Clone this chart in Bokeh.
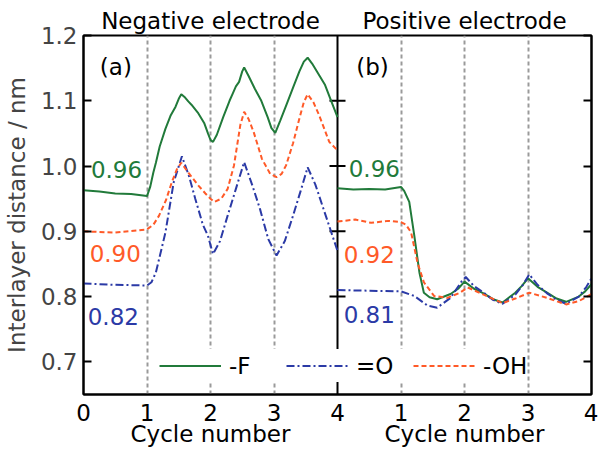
from bokeh.plotting import figure
from bokeh.models import Range1d, LinearAxis, FixedTicker, Span, Label, Legend, LegendItem
from bokeh.embed import file_html
from bokeh.resources import INLINE

# ---------------- data ----------------
panel_titles = ["Negative electrode", "Positive electrode"]
panel_tags = ["(a)", "(b)"]
x_title = "Cycle number"
y_title = "Interlayer distance / nm"
x_tick_labels = ["0", "1", "2", "3", "4", "1", "2", "3", "4"]
y_ticks = [0.7, 0.8, 0.9, 1.0, 1.1, 1.2]
y_tick_labels = ["0.7", "0.8", "0.9", "1.0", "1.1", "1.2"]
series_names = ["-F", "=O", "-OH"]

# Negative electrode (a)
neg_cycle_F = [0, 0.25, 0.5, 0.75, 1.0, 1.05, 1.1, 1.14, 1.2, 1.29, 1.37, 1.45, 1.5, 1.54, 1.6,
               1.65, 1.7, 1.8, 1.9, 1.96, 2.0, 2.04, 2.1, 2.2, 2.3, 2.35, 2.4, 2.45, 2.5, 2.53,
               2.6, 2.7, 2.8, 2.9, 2.96, 3.02, 3.1, 3.2, 3.3, 3.4, 3.47, 3.53, 3.6, 3.7, 3.8,
               3.9, 4.0]
neg_F = [0.963, 0.961, 0.958, 0.957, 0.954, 0.968, 0.990, 1.005, 1.030, 1.057, 1.077, 1.091,
         1.103, 1.110, 1.105, 1.099, 1.094, 1.082, 1.066, 1.050, 1.040, 1.037, 1.048, 1.075,
         1.100, 1.111, 1.122, 1.129, 1.145, 1.151, 1.138, 1.118, 1.100, 1.075, 1.058, 1.051,
         1.070, 1.095, 1.120, 1.145, 1.160, 1.166, 1.157, 1.141, 1.125, 1.100, 1.075]

neg_cycle_O = [0, 0.5, 1.0, 1.07, 1.14, 1.29, 1.42, 1.55, 1.66, 1.76, 1.88, 1.96, 2.04, 2.15,
               2.27, 2.4, 2.53, 2.66, 2.78, 2.91, 3.04, 3.17, 3.30, 3.42, 3.53, 3.65, 3.76,
               3.88, 4.0]
neg_O = [0.820, 0.818, 0.817, 0.822, 0.837, 0.898, 0.975, 1.015, 0.985, 0.950, 0.910, 0.893,
         0.865, 0.885, 0.924, 0.965, 1.006, 0.970, 0.934, 0.888, 0.863, 0.885, 0.924, 0.962,
         0.998, 0.972, 0.940, 0.905, 0.870]

neg_cycle_OH = [0, 0.5, 1.0, 1.1, 1.19, 1.3, 1.39, 1.47, 1.54, 1.65, 1.81, 1.92, 2.0, 2.06,
                2.17, 2.27, 2.37, 2.47, 2.53, 2.6, 2.68, 2.81, 2.94, 3.04, 3.12, 3.19, 3.30,
                3.40, 3.47, 3.53, 3.62, 3.71, 3.87, 4.0]
neg_OH = [0.900, 0.898, 0.903, 0.910, 0.924, 0.948, 0.975, 0.995, 1.005, 0.990, 0.970, 0.958,
          0.950, 0.945, 0.950, 0.965, 1.001, 1.063, 1.083, 1.072, 1.052, 1.011, 0.988, 0.983,
          0.988, 1.001, 1.035, 1.073, 1.098, 1.110, 1.098, 1.078, 1.037, 1.024]

# Positive electrode (b)
pos_cycle_F = [0, 0.25, 0.5, 0.75, 1.0, 1.05, 1.13, 1.21, 1.29, 1.36, 1.45, 1.57, 1.78, 1.9,
               2.0, 2.15, 2.3, 2.45, 2.6, 2.8, 2.9, 3.0, 3.15, 3.3, 3.45, 3.6, 3.8, 3.9, 4.0]
pos_F = [0.966, 0.964, 0.965, 0.964, 0.968, 0.962, 0.945, 0.893, 0.837, 0.806, 0.799, 0.796,
         0.804, 0.812, 0.823, 0.812, 0.805, 0.796, 0.791, 0.806, 0.816, 0.828, 0.815, 0.806,
         0.797, 0.792, 0.800, 0.808, 0.819]

pos_cycle_O = [0, 0.5, 1.0, 1.21, 1.42, 1.57, 1.78, 1.96, 2.02, 2.15, 2.3, 2.45, 2.6, 2.8, 2.92,
               3.02, 3.15, 3.3, 3.45, 3.6, 3.8, 3.92, 4.0]
pos_O = [0.810, 0.809, 0.808, 0.801, 0.786, 0.783, 0.798, 0.824, 0.830, 0.816, 0.806, 0.795,
         0.789, 0.803, 0.818, 0.834, 0.818, 0.805, 0.795, 0.789, 0.800, 0.815, 0.828]

pos_cycle_OH = [0, 0.28, 0.53, 0.8, 1.0, 1.08, 1.16, 1.26, 1.36, 1.52, 1.73, 1.93, 2.05, 2.3,
                2.6, 2.8, 3.02, 3.3, 3.6, 3.8, 4.0]
pos_OH = [0.915, 0.918, 0.913, 0.916, 0.914, 0.910, 0.898, 0.852, 0.822, 0.801, 0.798, 0.806,
          0.814, 0.803, 0.790, 0.797, 0.806, 0.798, 0.788, 0.793, 0.804]

start_labels_neg = ["0.96", "0.90", "0.82"]
start_labels_pos = ["0.96", "0.92", "0.81"]

# ---------------- styling ----------------
FONT = "DejaVu Sans"
FS = "23px"
GREEN = "#217a3a"
BLUE = "#2b3aa6"
ORANGE = "#ff5a28"
PANEL_W = 4  # cycles per panel

p = figure(width=598, height=449, x_range=Range1d(0, 2 * PANEL_W), y_range=Range1d(0.65, 1.2),
           output_backend="svg", toolbar_location=None,
           min_border_left=82, min_border_right=7, min_border_top=35, min_border_bottom=40)
p.background_fill_color = "white"
p.border_fill_color = "white"
p.outline_line_color = "black"
p.outline_line_width = 2

grid_ticks = [c for c in range(1, 2 * PANEL_W) if c != PANEL_W]
p.xgrid.ticker = FixedTicker(ticks=grid_ticks)
p.xgrid.grid_line_color = "#9a9a9a"
p.xgrid.grid_line_width = 2
p.xgrid.grid_line_dash = "4 3"
p.ygrid.visible = False

xa = p.xaxis[0]
xa.ticker = FixedTicker(ticks=list(range(0, 2 * PANEL_W + 1)))
xa.major_label_overrides = {i: t for i, t in enumerate(x_tick_labels)}
xa.major_tick_in = 0
xa.major_tick_out = 0
xa.minor_tick_line_color = None
xa.axis_line_width = 2
xa.major_label_standoff = 9
xa.major_label_text_font = FONT
xa.major_label_text_font_size = FS
xa.major_label_text_color = "black"

# "Cycle number" under each panel
xb = LinearAxis(ticker=FixedTicker(ticks=[PANEL_W / 2, PANEL_W * 1.5]),
                major_label_overrides={PANEL_W / 2: x_title, PANEL_W * 1.5: x_title},
                axis_line_color=None, major_tick_line_color=None, minor_tick_line_color=None,
                major_tick_in=0, major_tick_out=0,
                major_label_standoff=-3, major_label_text_font=FONT, major_label_text_font_size=FS,
                major_label_text_color="black")
p.add_layout(xb, "below")

xt = LinearAxis(ticker=FixedTicker(ticks=[PANEL_W / 2, PANEL_W * 1.5]),
                major_label_overrides={PANEL_W / 2: panel_titles[0], PANEL_W * 1.5: panel_titles[1]},
                axis_line_color=None, major_tick_line_color=None, minor_tick_line_color=None,
                major_tick_in=0, major_tick_out=0,
                major_label_standoff=2, major_label_text_font=FONT, major_label_text_font_size=FS,
                major_label_text_color="black")
p.add_layout(xt, "above")

ya = p.yaxis[0]
ya.ticker = FixedTicker(ticks=y_ticks)
ya.major_label_overrides = {v: t for v, t in zip(y_ticks, y_tick_labels)}
ya.major_tick_in = 8
ya.major_tick_out = 0
ya.major_tick_line_width = 2
ya.minor_tick_line_color = None
ya.axis_line_width = 2
ya.major_label_standoff = 6
ya.major_label_text_font = FONT
ya.major_label_text_font_size = FS
ya.axis_label = y_title
ya.axis_label_text_font = FONT
ya.axis_label_text_font_size = FS
ya.axis_label_text_font_style = "normal"
ya.axis_label_standoff = 8

yr = LinearAxis(ticker=FixedTicker(ticks=y_ticks),
                major_label_overrides={v: "" for v in y_ticks},
                major_tick_in=8, major_tick_out=0, major_tick_line_width=2,
                minor_tick_line_color=None, axis_line_width=2, major_label_standoff=0)
p.add_layout(yr, "right")

div = Span(location=PANEL_W, dimension="height", line_color="black", line_width=2, level="underlay")
p.add_layout(div)
p.scatter(x=[PANEL_W] * (len(y_ticks) - 1), y=y_ticks[:-1], marker="dash", size=16,
          line_color="black", line_width=2, level="underlay")

# ---------------- series ----------------
def shift(xs):
    return [x + PANEL_W for x in xs]

rF = p.line(neg_cycle_F, neg_F, line_color=GREEN, line_width=2)
p.line(shift(pos_cycle_F), pos_F, line_color=GREEN, line_width=2)
rO = p.line(neg_cycle_O, neg_O, line_color=BLUE, line_width=2, line_dash="8 3 2 3")
p.line(shift(pos_cycle_O), pos_O, line_color=BLUE, line_width=2, line_dash="8 3 2 3")
rOH = p.line(neg_cycle_OH, neg_OH, line_color=ORANGE, line_width=2, line_dash="5 3")
p.line(shift(pos_cycle_OH), pos_OH, line_color=ORANGE, line_width=2, line_dash="5 3")

# ---------------- annotations ----------------
def lab(x, y, text, color, bg=None):
    kw = dict(x=x, y=y, text=text, text_align="center", text_baseline="middle",
              text_font=FONT, text_font_size=FS, text_color=color)
    if bg:
        kw.update(background_fill_color=bg, background_fill_alpha=1.0)
    p.add_layout(Label(**kw))

lab(0.51, 1.152, panel_tags[0], "black")
lab(PANEL_W + 0.55, 1.152, panel_tags[1], "black")

lab(0.52, 0.995, start_labels_neg[0], GREEN)
lab(0.50, 0.866, start_labels_neg[1], ORANGE)
lab(0.47, 0.769, start_labels_neg[2], BLUE)
lab(PANEL_W + 0.58, 0.997, start_labels_pos[0], GREEN, bg="white")
lab(PANEL_W + 0.50, 0.865, start_labels_pos[1], ORANGE)
lab(PANEL_W + 0.50, 0.772, start_labels_pos[2], BLUE)

legend = Legend(items=[LegendItem(label=series_names[0], renderers=[rF]),
                       LegendItem(label=series_names[1], renderers=[rO]),
                       LegendItem(label=series_names[2], renderers=[rOH])],
                orientation="horizontal", location=(76, 12),
                glyph_width=62, glyph_height=33, label_standoff=8, label_width=40,
                spacing=17, padding=4, margin=0,
                border_line_color=None, background_fill_color="white", background_fill_alpha=1.0,
                label_text_font=FONT, label_text_font_size=FS, label_text_color="black")
p.add_layout(legend)

open("out.html", "w").write(file_html(p, INLINE))
